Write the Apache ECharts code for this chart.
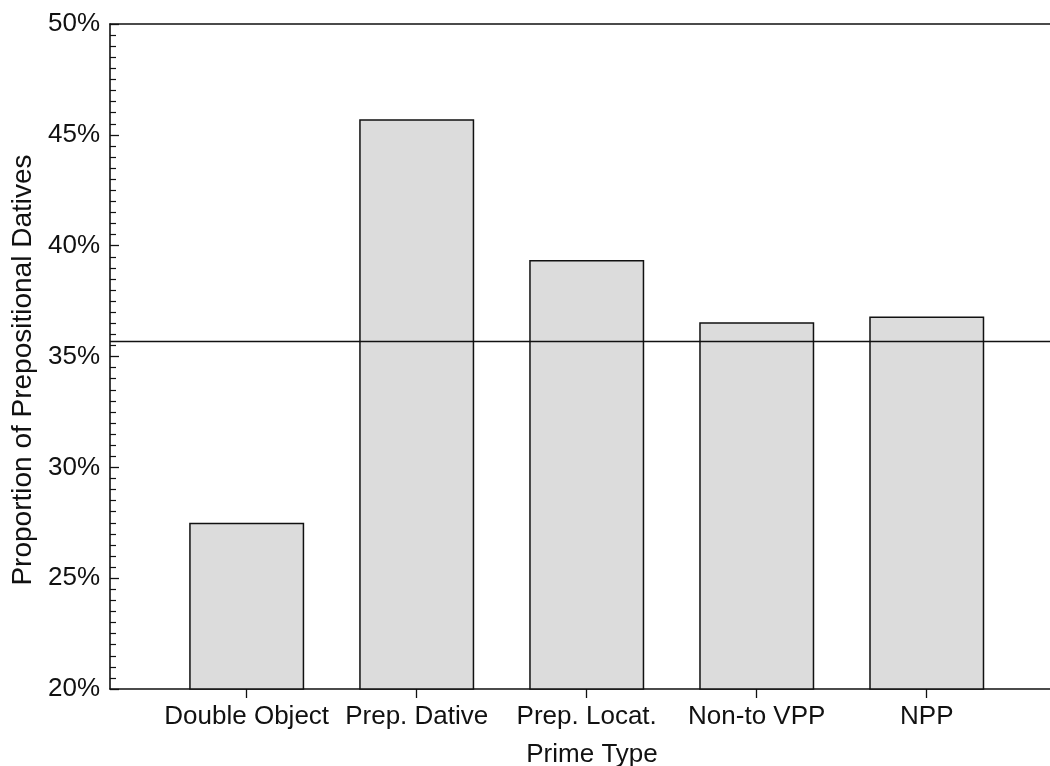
<!DOCTYPE html>
<html>
<head>
<meta charset="utf-8">
<title>Prepositional Datives by Prime Type</title>
<script src="https://cdn.jsdelivr.net/npm/echarts@6/dist/echarts.min.js"></script>
<style>
  html, body { margin: 0; padding: 0; background: #ffffff; }
  #chart { width: 1050px; height: 766px; }
</style>
</head>
<body>
<div id="chart"></div>
<script>
// Prime types, in plotting order
const categories = ['Double Object', 'Prep. Dative', 'Prep. Locat.', 'Non-to VPP', 'NPP'];
// Proportion of prepositional dative responses (%)
const proportions = [27.5, 45.7, 39.35, 36.55, 36.8];
// Overall baseline proportion (%)
const baseline = 35.7;
// Y-axis range and tick step (%)
const yMin = 20, yMax = 50, yStep = 5;
const xLabelTitle = 'Prime Type';
const yLabelTitle = 'Proportion of Prepositional Datives';

// Category positions 1..n on a numeric x scale
const positions = categories.map((_, i) => i + 1);
const barData = positions.map((p, i) => [p, proportions[i]]);

const FONT = '"Liberation Sans", Arial, Helvetica, sans-serif';
const INK = '#111111';

const chart = echarts.init(document.getElementById('chart'), null, { renderer: 'canvas' });

chart.setOption({
  backgroundColor: '#ffffff',
  animation: false,
  title: {
    text: xLabelTitle,
    left: 587,
    top: 737,
    textAlign: 'center',
    textStyle: { fontFamily: FONT, fontSize: 26, fontWeight: 'normal', color: INK }
  },
  grid: { left: 110, right: 0, top: 24, bottom: 77, containLabel: false },
  xAxis: [
    {
      type: 'value',
      min: 0.196,
      max: 5.725,
      position: 'bottom',
      splitLine: { show: false },
      axisLine: { show: true, lineStyle: { color: INK, width: 1.6 } },
      axisTick: {
        show: true, inside: false, length: 9,
        customValues: positions,
        lineStyle: { color: INK, width: 1.3 }
      },
      axisLabel: {
        show: true,
        customValues: positions,
        margin: 15,
        fontFamily: FONT, fontSize: 26, color: INK,
        formatter: v => categories[Math.round(v) - 1] || ''
      }
    },
    {
      type: 'value',
      min: 0.196,
      max: 5.725,
      position: 'top',
      splitLine: { show: false },
      axisLine: { show: true, lineStyle: { color: INK, width: 1.6 } },
      axisTick: { show: false },
      axisLabel: { show: false }
    }
  ],
  yAxis: {
    type: 'value',
    min: yMin,
    max: yMax,
    interval: yStep,
    name: yLabelTitle,
    nameLocation: 'middle',
    nameGap: 68,
    nameTextStyle: { fontFamily: FONT, fontSize: 28, color: INK, padding: [0, 27, 0, 0] },
    splitLine: { show: false },
    axisLine: { show: true, lineStyle: { color: INK, width: 1.6 } },
    axisTick: { show: true, inside: true, length: 9, lineStyle: { color: INK, width: 1.3 } },
    minorTick: { show: true, splitNumber: 10, length: 6, lineStyle: { color: INK, width: 1.2 } },
    axisLabel: {
      margin: 10,
      fontFamily: FONT, fontSize: 26, color: INK,
      formatter: '{value}%'
    }
  },
  series: [
    {
      type: 'bar',
      xAxisIndex: 0,
      data: barData,
      barWidth: 115,
      itemStyle: { color: '#dcdcdc', borderColor: INK, borderWidth: 1.5 },
      markLine: {
        silent: true,
        symbol: ['none', 'none'],
        label: { show: false },
        lineStyle: { color: INK, width: 1.4, type: 'solid' },
        data: [{ yAxis: baseline }]
      }
    }
  ]
});
</script>
</body>
</html>
